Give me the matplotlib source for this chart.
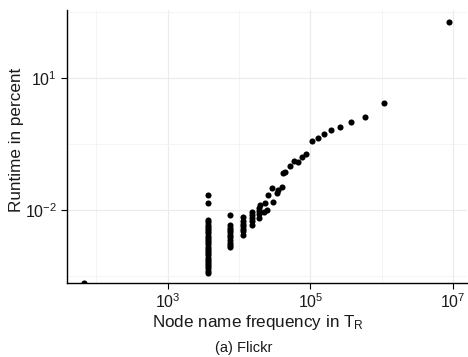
import math
import matplotlib
matplotlib.use('Agg')
import matplotlib.pyplot as plt
from matplotlib.ticker import FixedLocator, NullFormatter, FuncFormatter

plt.rcParams['font.family'] = ['Liberation Sans', 'DejaVu Sans']
plt.rcParams['mathtext.fontset'] = 'custom'
plt.rcParams['mathtext.rm'] = 'Liberation Sans'
plt.rcParams['mathtext.it'] = 'Liberation Sans:italic'
plt.rcParams['mathtext.bf'] = 'Liberation Sans:bold'

# ---- data ----
# columns of points sharing the same node-name frequency
col_freqs = [3720, 7480, 11300, 15100, 18700]
col_runtimes = [
    [0.022, 0.0142, 0.00589, 0.00525, 0.00468, 0.00417, 0.00372, 0.00331,
     0.00295, 0.00263, 0.00234, 0.00209, 0.00186, 0.00166, 0.00148, 0.00132,
     0.00117, 0.00105, 0.000933, 0.000832, 0.000741, 0.000661, 0.000589,
     0.000525, 0.000468, 0.000417, 0.000372],
    [0.0077, 0.00455, 0.0040, 0.0035, 0.0031, 0.0027, 0.0024, 0.0021,
     0.0018, 0.0016, 0.00146],
    [0.0070, 0.0056, 0.0049, 0.0043, 0.0038, 0.0033, 0.0027],
    [0.0092, 0.0077, 0.0066, 0.0055, 0.0046],
    [0.0111, 0.0095, 0.0082, 0.0066],
]
# remaining individual points
other_freq = [67, 19700, 22000, 23200, 24500, 25800, 28800, 30300, 33900,
              35600, 39800, 40800, 44300, 51300, 58200, 66000, 76000, 87300,
              105000, 126000, 153000, 196000, 256000, 366000, 574000,
              1060000, 8670000]
other_runtime = [0.00022, 0.013, 0.0092, 0.0142, 0.0100, 0.022, 0.0312,
                 0.0155, 0.024, 0.0286, 0.034, 0.0714, 0.0744, 0.100, 0.129,
                 0.123, 0.164, 0.189, 0.379, 0.443, 0.547, 0.675, 0.766,
                 1.03, 1.334, 2.70, 194.6]

x_major = [1e3, 1e5, 1e7]
x_minor = [1e2, 1e4, 1e6]
y_major = [1e1, 1e-2]
y_minor = [10 ** -3.5, 10 ** -0.5, 10 ** 2.5]

xs, ys = [], []
for f, rs in zip(col_freqs, col_runtimes):
    xs += [f] * len(rs)
    ys += rs
xs += other_freq
ys += other_runtime

fig = plt.figure(figsize=(4.68, 3.57), dpi=100)
ax = fig.add_axes([0.1425, 0.2073, 0.8547, 0.7647])
ax.set_xscale('log')
ax.set_yscale('log')
ax.set_xlim(10 ** 1.583, 10 ** 7.19)
ax.set_ylim(10 ** -3.66, 10 ** 2.556)

ax.plot(xs, ys, 'o', color='black', markersize=4.4, markeredgewidth=0,
        zorder=3)

ax.xaxis.set_major_locator(FixedLocator(x_major))
ax.xaxis.set_minor_locator(FixedLocator(x_minor))
ax.yaxis.set_major_locator(FixedLocator(y_major))
ax.yaxis.set_minor_locator(FixedLocator(y_minor))


def fmt(v, pos):
    e = int(round(math.log10(v)))
    return r'$\mathregular{10^{%d}}$' % e


ax.xaxis.set_major_formatter(FuncFormatter(fmt))
ax.yaxis.set_major_formatter(FuncFormatter(fmt))
ax.xaxis.set_minor_formatter(NullFormatter())
ax.yaxis.set_minor_formatter(NullFormatter())

ax.grid(True, which='major', color='#ebebeb', linewidth=0.8, zorder=0)
ax.grid(True, which='minor', color='#f2f2f2', linewidth=0.6, zorder=0)
ax.set_axisbelow(True)

for s in ['top', 'right']:
    ax.spines[s].set_visible(False)
for s in ['left', 'bottom']:
    ax.spines[s].set_color('black')
    ax.spines[s].set_linewidth(1.0)

ax.tick_params(which='major', length=4, width=0.8, color='black',
               labelsize=11.5, labelcolor='#1a1a1a', pad=3)
ax.tick_params(which='minor', length=0)

fig.text(17 / 468, 1 - 140 / 357, 'Runtime in percent', rotation=90,
         ha='center', va='center', fontsize=12.3, color='#1a1a1a')
fig.text(258 / 468, 1 - 326.7 / 357, r'Node name frequency in T$_\mathregular{R}$',
         ha='center', va='baseline', fontsize=12.3, color='#1a1a1a')
fig.text(244 / 468, 1 - 351.7 / 357, '(a) Flickr', ha='center',
         va='baseline', fontsize=10.5, color='#1a1a1a')

fig.savefig('out.png', dpi=100)
